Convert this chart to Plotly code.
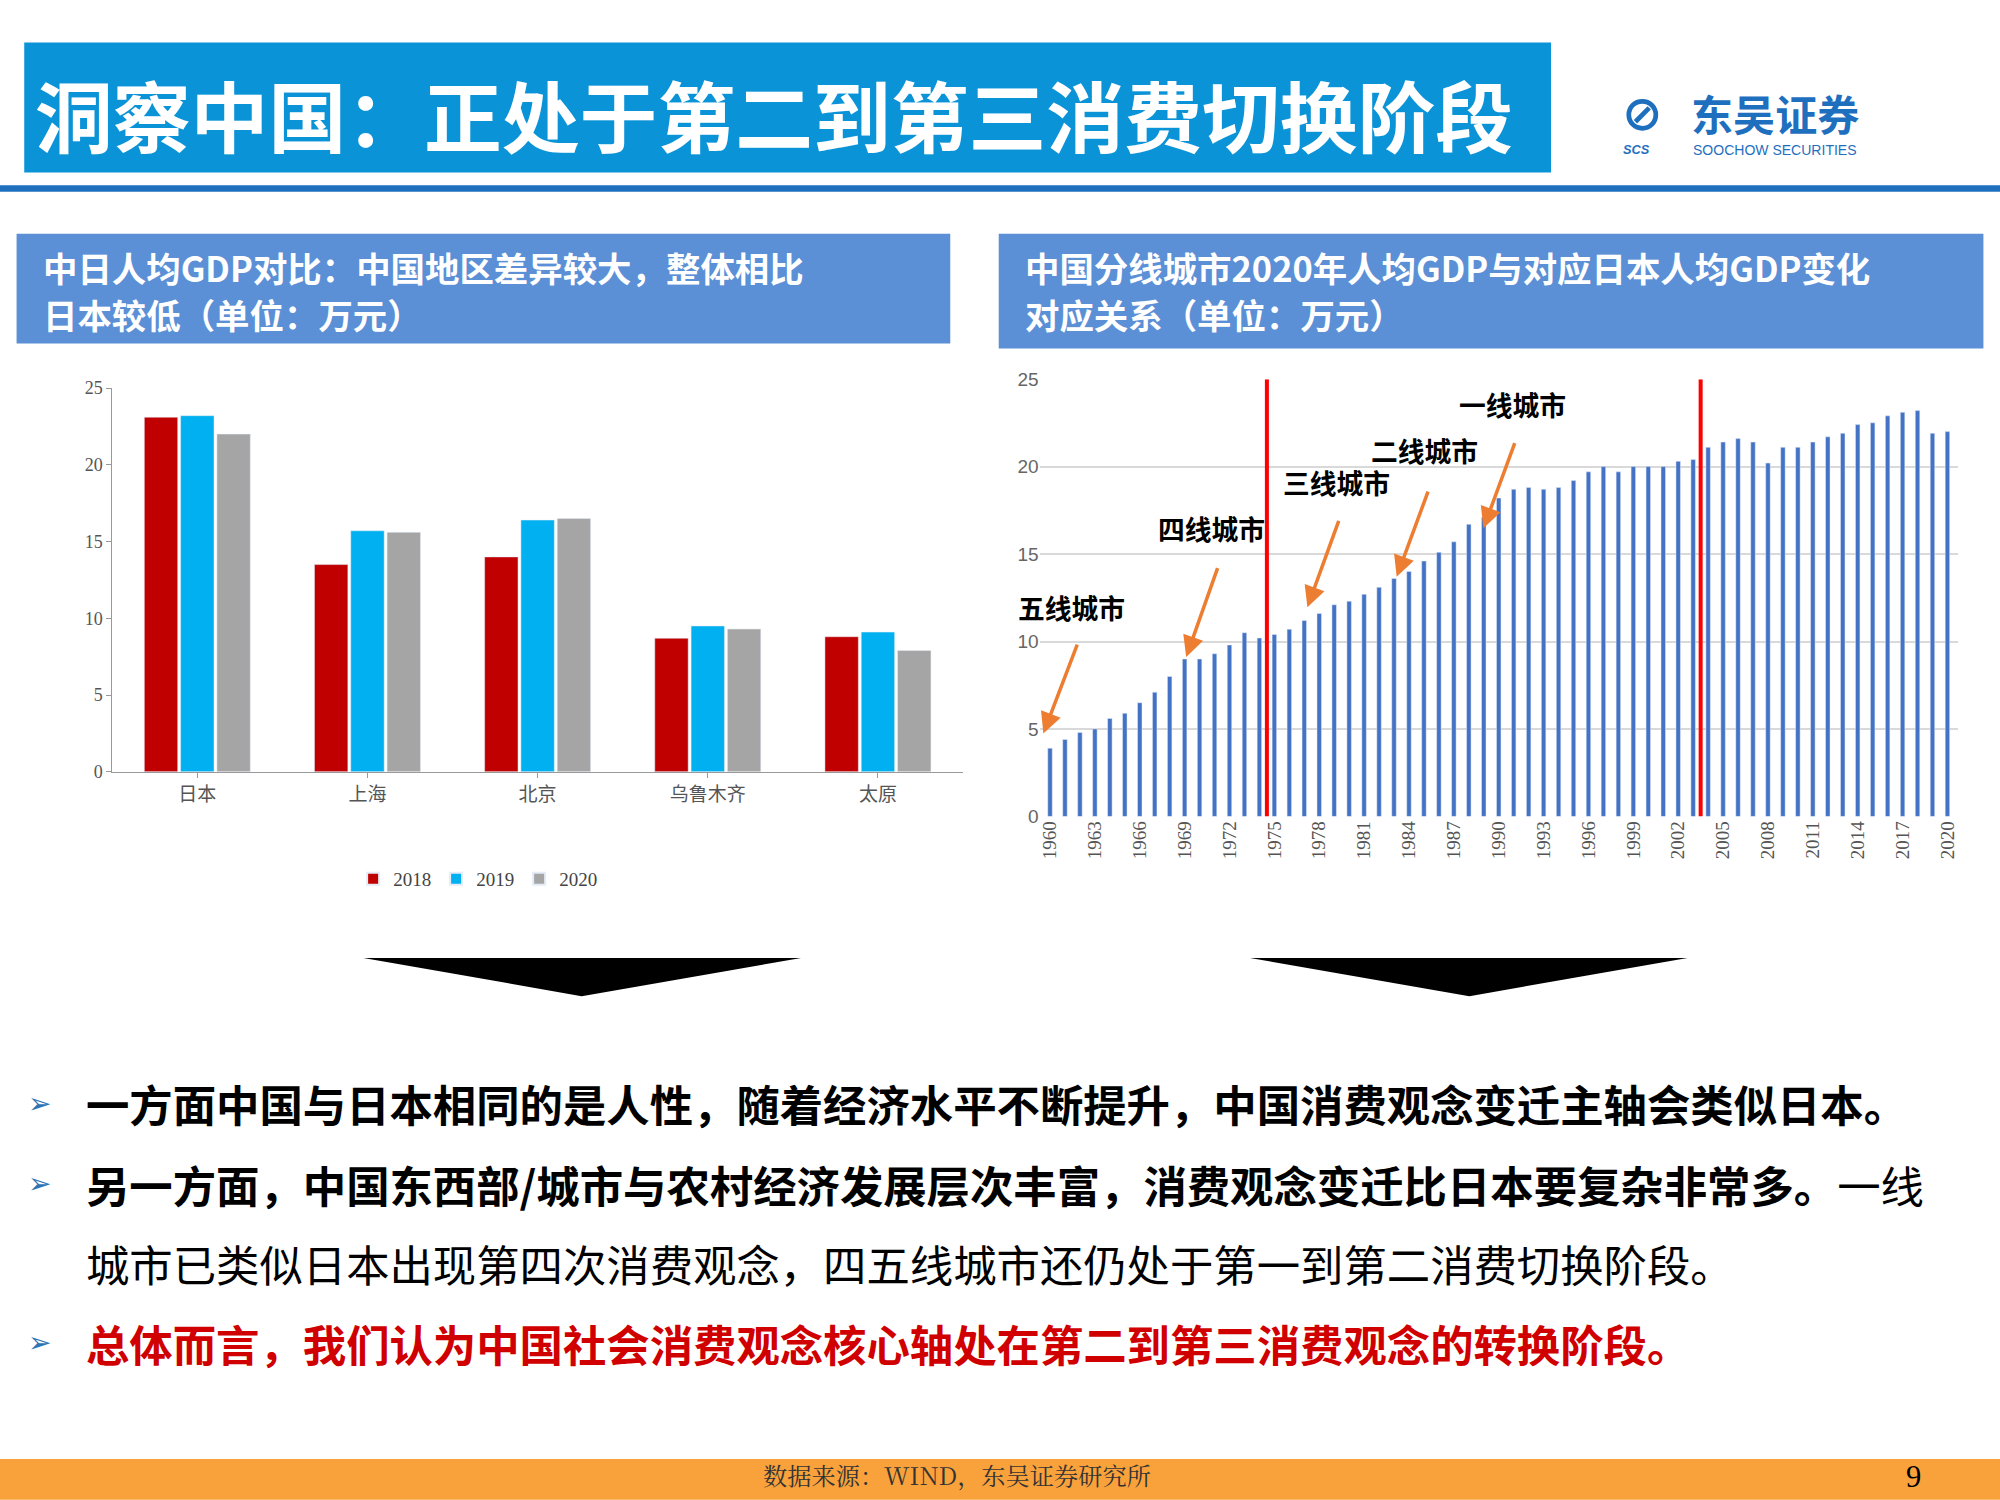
import plotly.graph_objects as go

# left chart data
cities = ['日本', '上海', '北京', '乌鲁木齐', '太原']
gdp_2018 = [23.1, 13.5, 14.0, 8.7, 8.8]
gdp_2019 = [23.2, 15.7, 16.4, 9.5, 9.1]
gdp_2020 = [22.0, 15.6, 16.5, 9.3, 7.9]

# right chart data: Japan GDP per capita 1960-2020
years = list(range(1960, 2021))
japan_gdp = [3.9, 4.4, 4.8, 5.0, 5.6, 5.9, 6.5, 7.1, 8.0, 9.0,
             9.0, 9.3, 9.8, 10.5, 10.2, 10.4, 10.7, 11.2, 11.6, 12.1,
             12.3, 12.7, 13.1, 13.6, 14.0, 14.6, 15.1, 15.7, 16.7, 17.1,
             18.2, 18.7, 18.8, 18.7, 18.8, 19.2, 19.7, 20.0, 19.7, 20.0,
             20.0, 20.0, 20.3, 20.4, 21.1, 21.4, 21.6, 21.4, 20.2, 21.1,
             21.1, 21.4, 21.7, 21.9, 22.4, 22.5, 22.9, 23.1, 23.2, 21.9, 22.0]
red_lines = [1974.5, 2003.5]
tier_labels = ['五线城市', '四线城市', '三线城市', '二线城市', '一线城市']

W, H = 2000, 1500
S = 2000 / 1568  # reference was measured on a 1568 wide view


def px(x, y):
    y = 33 + (y - 40) / 0.9865  # empirical vertical correction
    return x * S / W, 1 - y * S / H


def box(x0, y0, x1, y1, color):
    a, b = px(x0, y0)
    c, d = px(x1, y1)
    return dict(type='rect', xref='paper', yref='paper', x0=a, y0=d, x1=c, y1=b,
                fillcolor=color, line_width=0, layer='below')


CJK = 'Noto Sans CJK SC'
fig = go.Figure()

fig.add_bar(x=cities, y=gdp_2018, name='2018', marker_color='#c00000', xaxis='x', yaxis='y')
fig.add_bar(x=cities, y=gdp_2019, name='2019', marker_color='#00b0f0', xaxis='x', yaxis='y')
fig.add_bar(x=cities, y=gdp_2020, name='2020', marker_color='#a5a5a5', xaxis='x', yaxis='y')
fig.add_bar(x=years, y=japan_gdp, marker_color='#4472c4', width=0.3, showlegend=False,
            xaxis='x2', yaxis='y2')

lx0, ly1 = px(88, 605)
lx1, ly0 = px(755, 304)
rx0, ry1 = px(815, 640)
rx1, ry0 = px(1535, 297)

shapes = [
    box(0, -50, 1568, 1250, 'white'),
    box(19, 33, 1216, 135, '#0b93d8'),
    box(0, 145, 1568, 150, '#1f6fbf'),
    box(13, 183, 745, 269, '#5b8fd6'),
    box(783, 183, 1555, 273, '#5b8fd6'),
    box(0, 1144, 1568, 1176, '#f9a23c'),
]
for t in [(285, 628, 456), (980, 1323, 1152)]:
    a = px(t[0], 751)
    b = px(t[1], 751)
    c = px(t[2], 781)
    path = f'M {a[0]},{a[1]} L {b[0]},{b[1]} L {c[0]},{c[1]} Z'
    shapes.append(dict(type='path', xref='paper', yref='paper', path=path,
                       fillcolor='black', line_width=0))
for yr in red_lines:
    shapes.append(dict(type='line', xref='x2', yref='y2', x0=yr, x1=yr, y0=0, y1=25,
                       line=dict(color='#ff0000', width=4)))

ann = []


def text(x, y, s, size, color='black', anchor='left', family=CJK, yanchor='middle'):
    a, b = px(x, y)
    ann.append(dict(xref='paper', yref='paper', x=a, y=b, text=s, showarrow=False,
                    xanchor=anchor, yanchor=yanchor, align='left',
                    font=dict(size=size * S, color=color, family=family)))


text(26, 88, '<b>洞察中国：正处于第二到第三消费切换阶段</b>', 61, 'white')
text(1270, 88, '<b><i>⊘</i></b>', 38, '#1f6fbf', family='DejaVu Sans')
text(1324, 88, '<b>东吴证券</b>', 33, '#1f6fbf')
text(1326, 117, 'SOOCHOW SECURITIES', 11, '#1f6fbf', family='Arial')
text(1271, 117, '<b><i>SCS</i></b>', 10, '#1f6fbf', family='Arial')
text(32, 209, '<b>中日人均GDP对比：中国地区差异较大，整体相比</b>', 27, 'white')
text(32, 246, '<b>日本较低（单位：万元）</b>', 27, 'white')
text(802, 209, '<b>中国分线城市2020年人均GDP与对应日本人均GDP变化</b>', 27, 'white')
text(802, 246, '<b>对应关系（单位：万元）</b>', 27, 'white')

bul = '#2e75b6'
for y in [865, 928, 1053]:
    text(20, y, '➢', 22, bul, family='DejaVu Sans')
text(66, 865, '<b>一方面中国与日本相同的是人性，随着经济水平不断提升，中国消费观念变迁主轴会类似日本。</b>', 34)
text(66, 928, '<b>另一方面，中国东西部/城市与农村经济发展层次丰富，消费观念变迁比日本要复杂非常多。</b>一线', 34)
text(66, 990, '城市已类似日本出现第四次消费观念，四五线城市还仍处于第一到第二消费切换阶段。', 34)
text(66, 1053, '<b>总体而言，我们认为中国社会消费观念核心轴处在第二到第三消费观念的转换阶段。</b>', 34, '#d00000')
text(750, 1156, '数据来源：WIND，东吴证券研究所', 19, '#333333', anchor='center', family='Noto Serif CJK SC, serif')
text(1500, 1158, '9', 24, 'black', anchor='center', family='Liberation Serif')

# tier labels and arrows
label_pos = [(840, 476), (950, 414), (1048, 378), (1117, 353), (1186, 317)]
arrows = [((818, 575), (845, 505)), ((930, 515), (955, 445)), ((1025, 476), (1050, 408)),
          ((1095, 452), (1120, 385)), ((1163, 414), (1188, 347))]
for lab, (x, y) in zip(tier_labels, label_pos):
    text(x, y, '<b>' + lab + '</b>', 21, 'black', anchor='center')
for (hx, hy), (tx, ty) in arrows:
    a, b = px(hx, hy)
    c, d = px(tx, ty)
    ann.append(dict(xref='paper', yref='paper', x=a, y=b, ax=(c - a) * W, ay=-(d - b) * H,
                    showarrow=True, arrowhead=2, arrowsize=1.2, arrowwidth=3.5,
                    arrowcolor='#ed7d31', text=''))

fig.update_layout(
    width=W, height=H, margin=dict(l=0, r=0, t=0, b=0),
    paper_bgcolor='white', plot_bgcolor='white',
    barmode='group', bargap=0.36, bargroupgap=0.08,
    shapes=shapes, annotations=ann,
    showlegend=True,
    legend=dict(orientation='h', x=(lx0 + lx1) / 2 - 0.03, xanchor='center', y=px(0, 689)[1], yanchor='middle',
                font=dict(family='Liberation Serif', size=19, color='#444'), itemwidth=30,
                tracegroupgap=0, itemsizing='constant'),
    xaxis=dict(domain=[lx0, lx1], showline=True, linecolor='#999', ticks='outside', tickcolor='#999',
               tickfont=dict(family=CJK, size=19, color='#555'), anchor='y'),
    yaxis=dict(domain=[ly1, ly0], range=[0, 25], dtick=5, showgrid=False, showline=True, linecolor='#999',
               ticks='outside', tickcolor='#999', tickfont=dict(family='Liberation Serif', size=18, color='#555'),
               anchor='x'),
    xaxis2=dict(domain=[rx0, rx1], range=[1959.3, 2020.7], tickvals=years[::3], tickangle=-90,
                showgrid=False, tickfont=dict(family='Liberation Serif', size=19, color='#555'), anchor='y2'),
    yaxis2=dict(domain=[ry1, ry0], range=[0, 25], dtick=5, gridcolor='#d9d9d9', gridwidth=2, zeroline=False,
                tickfont=dict(family='Liberation Sans', size=19, color='#666'), anchor='x2'),
)

fig.write_html("out.html", config={'displayModeBar': False},
               post_script="document.body.style.margin='0';")
